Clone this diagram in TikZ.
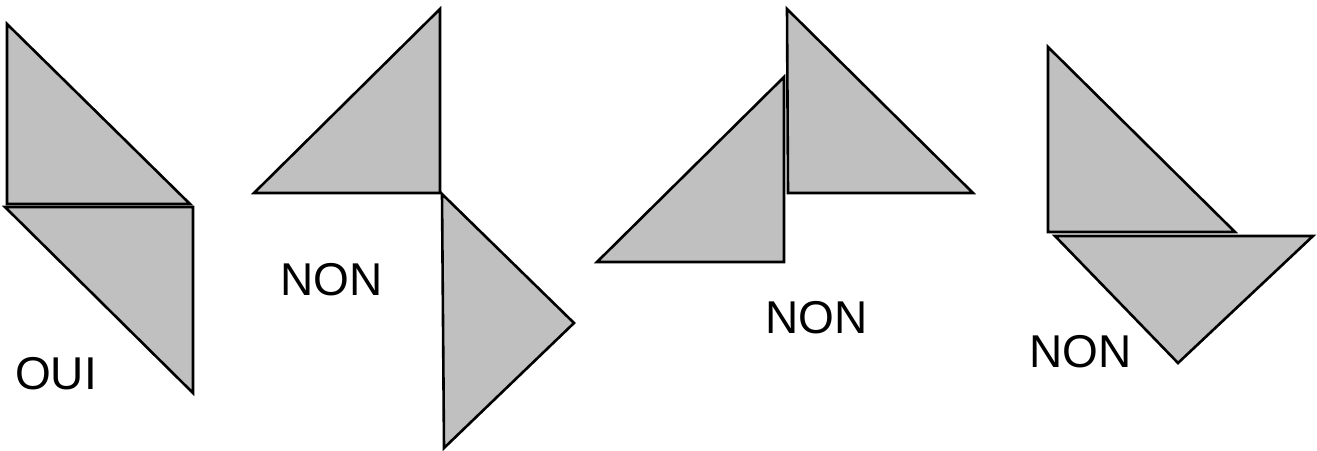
\documentclass[tikz,border=0pt]{standalone}
\usepackage{fontspec}
\setmainfont{Liberation Sans}
\definecolor{tgray}{HTML}{C0C0C0}
\tikzset{
  piece/.style={fill=tgray, draw=black, line width=2.6pt, line join=miter},
  lbl/.style={inner sep=0pt, anchor=base west, font=\fontsize{46}{50}\selectfont}
}
\begin{document}
\begin{tikzpicture}[x=1pt,y=-1pt]
\useasboundingbox (0,0) rectangle (1317,450);
% OUI
\draw[piece] (7,24) -- (7,204) -- (190,204) -- cycle;
\draw[piece] (5,207) -- (193,207) -- (193,393) -- cycle;
\node[lbl] (oui) at (15,389) {OUI};
% NON 1
\draw[piece] (254,193) -- (440,193) -- (440,9) -- cycle;
\draw[piece] (442,194) -- (574,323) -- (444,448) -- cycle;
\node[lbl] (non1) at (280,295) {NON};
% NON 2
\draw[piece] (597,262) -- (784,262) -- (784,77) -- cycle;
\draw[piece] (787,9) -- (788,193) -- (973,193) -- cycle;
\node[lbl] (non2) at (765,333) {NON};
% NON 3
\draw[piece] (1048,47) -- (1048,232) -- (1235,232) -- cycle;
\draw[piece] (1055,236) -- (1313,236) -- (1178,363) -- cycle;
\node[lbl] (non3) at (1029,367) {NON};
\end{tikzpicture}
\end{document}
